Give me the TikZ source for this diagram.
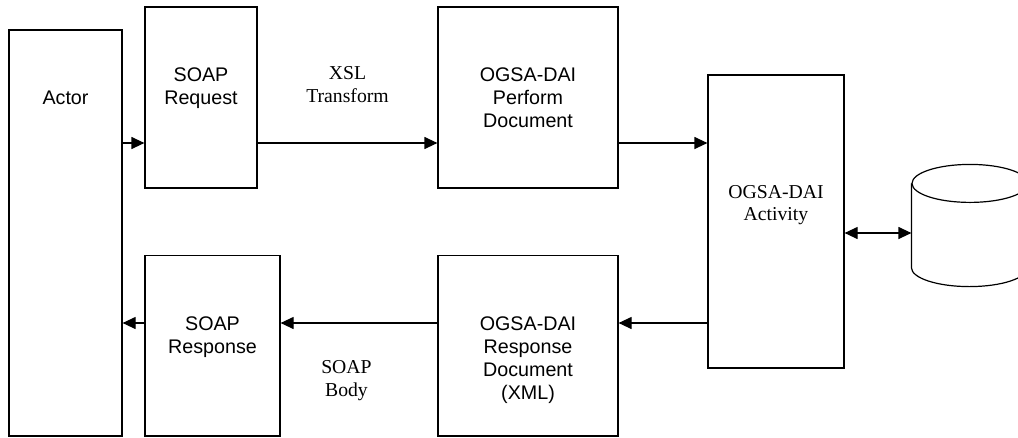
\documentclass[tikz,border=0pt]{standalone}
\usepackage{fontspec}
\setmainfont{Liberation Serif}
\setsansfont{Liberation Sans}
\usetikzlibrary{arrows.meta}

\tikzset{
  blk/.style={draw, line width=1.2pt, inner sep=0pt},
  inlbl/.style={anchor=north, yshift=-61pt, align=center, inner sep=0pt,
    font=\sffamily\fontsize{19.7}{23}\selectfont},
  edgelbl/.style={align=center, inner sep=0pt,
    font=\rmfamily\fontsize{19.7}{22.5}\selectfont},
}

\begin{document}
\begin{tikzpicture}[x=1pt, y=-1pt, >={Triangle[length=13pt,width=12pt]}, line width=1.2pt]
            \useasboundingbox (0,0) rectangle (1018,437);
            \clip (0,0) rectangle (1018,437);

            \node[blk, minimum width=113pt, minimum height=406pt, label={[inlbl]north:Actor}] (actor) at (65.5,233) {};
            \node[blk, minimum width=112pt, minimum height=181pt, label={[inlbl]north:SOAP\\Request}] (req) at (201,97.5) {};
            \node[blk, minimum width=135pt, minimum height=180.5pt, label={[inlbl]north:SOAP\\Response}] (resp) at (212.5,345.75) {};
            \node[blk, minimum width=180pt, minimum height=181pt, label={[inlbl]north:OGSA-DAI\\Perform\\Document}] (perf) at (528,97.5) {};
            \node[blk, minimum width=180pt, minimum height=180.5pt, label={[inlbl]north:OGSA-DAI\\Response\\Document\\(XML)}] (rdoc) at (528,345.75) {};
            \node[blk, minimum width=136pt, minimum height=293pt, label={[inlbl, yshift=-49pt, font=\rmfamily\fontsize{19.7}{22}\selectfont]north:OGSA-DAI\\Activity}] (act) at (776,221.5) {};

            % database
            \node[inner sep=0pt, minimum width=116pt, minimum height=121pt] (db) at (970,225.5) {};
            \draw ([yshift=-19pt]db.north) ellipse [x radius=58pt, y radius=19pt];
            \draw ([yshift=-19pt]db.north west) -- ([yshift=19pt]db.south west)
              arc [start angle=180, end angle=360, x radius=58pt, y radius=19pt] -- ([yshift=-19pt]db.north east);

            \coordinate (top) at (0,143);
            \coordinate (bot) at (0,323);
            \coordinate (mid) at (0,233);

            \draw[->] (actor.east |- top) to (req.west |- top);
            \draw[->] (req.east |- top) to node[edgelbl, above=40pt] {XSL\\Transform} (perf.west |- top);
            \draw[->] (perf.east |- top) to (act.west |- top);
            \draw[->] (act.west |- bot) to (rdoc.east |- bot);
            \draw[->] (rdoc.west |- bot) to node[edgelbl, below=37pt, pos=0.58] {SOAP\\Body} (resp.east |- bot);
            \draw[->] (resp.west |- bot) to (actor.east |- bot);
            \draw[<->] (act.east |- mid) to (db.west |- mid);
        \end{tikzpicture}
\end{document}
